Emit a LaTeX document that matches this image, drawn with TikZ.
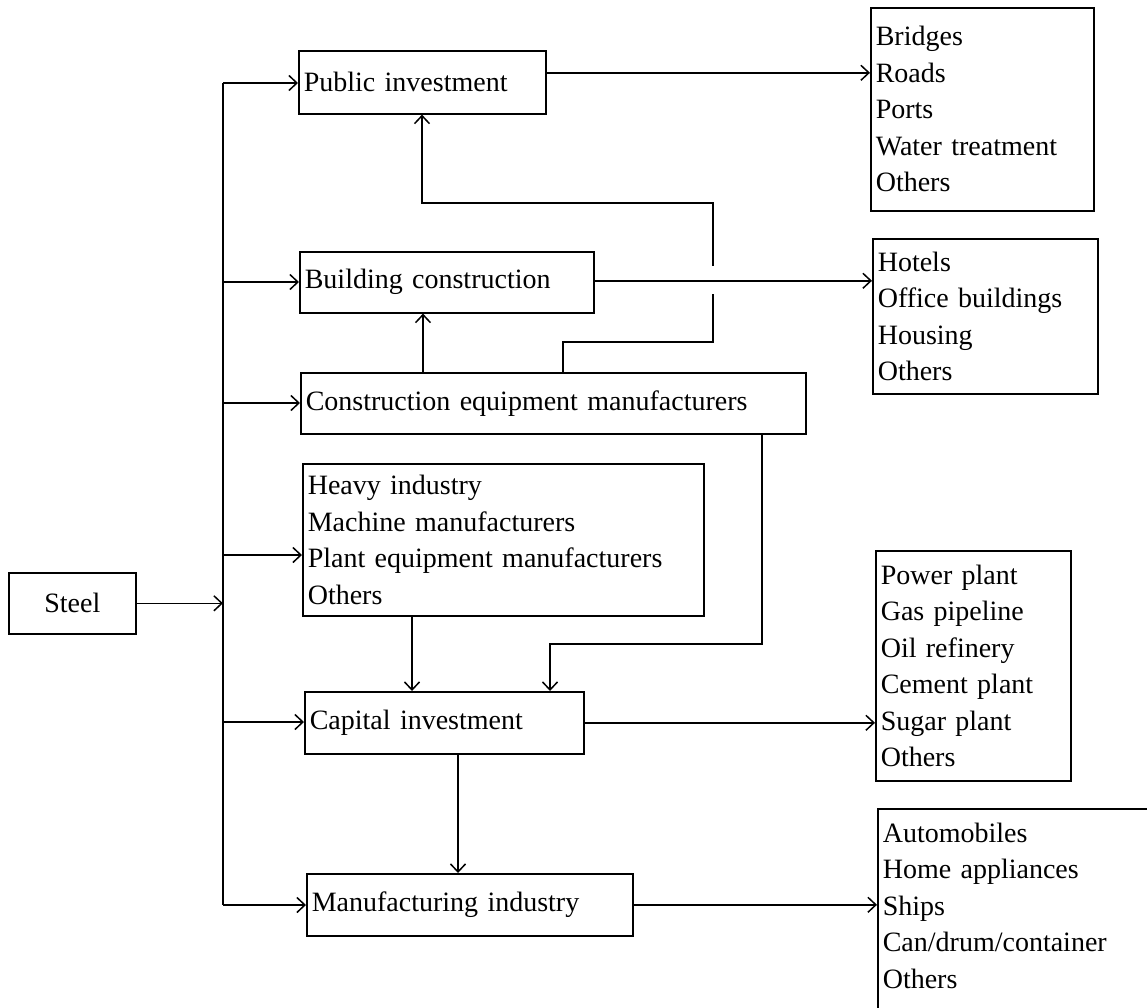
\documentclass[tikz,border=0pt]{standalone}
\usepackage{fontspec}
\setmainfont{Liberation Serif}
\usetikzlibrary{arrows.meta}
\begin{document}
\begin{tikzpicture}[x=1pt,y=-1pt,
  every node/.style={font=\fontsize{28}{36.5}\selectfont},
  box/.style={draw, line width=1.6pt, rectangle, anchor=north west,
    inner xsep=5pt, inner ysep=0pt, align=left},
  link/.style={line width=1.5pt},
  arr/.style={link, -{Straight Barb[length=8pt,width=15pt,line width=1.5pt]}}]

\useasboundingbox (0,0) rectangle (1147,1007);
\clip (0,0) rectangle (1147,1007);

% sector boxes
\node[box, text width=237pt, minimum height=63pt] (pub) at (298,50) {Public investment};
\node[box, text width=284pt, minimum height=61pt] (bld) at (299,251) {Building construction};
\node[box, text width=495pt, minimum height=61pt] (ceq) at (300,372) {Construction equipment manufacturers};
\node[box, text width=391pt, minimum height=152pt] (hvy) at (302,463)
  {Heavy industry\\Machine manufacturers\\Plant equipment manufacturers\\Others};
\node[box, text width=269pt, minimum height=62pt] (cap) at (304,691) {Capital investment};
\node[box, text width=316pt, minimum height=62pt] (mfg) at (306,873) {Manufacturing industry};
\node[box, text width=117pt, minimum height=61pt, align=center] (steel) at (8,572) {Steel};

% end-use boxes
\node[box, text width=213pt, minimum height=203pt] (bri) at (870,7)
  {Bridges\\Roads\\Ports\\Water treatment\\Others};
\node[box, text width=215pt, minimum height=155pt] (hot) at (872,238)
  {Hotels\\Office buildings\\Housing\\Others};
\node[box, text width=185pt, minimum height=230pt] (pow) at (875,550)
  {Power plant\\Gas pipeline\\Oil refinery\\Cement plant\\Sugar plant\\Others};
\node[box, text width=300pt, minimum height=230pt] (aut) at (877,808)
  {Automobiles\\Home appliances\\Ships\\Can/drum/container\\Others\\\mbox{}};

% distribution bus from steel
\coordinate (b1) at (223,83);
\coordinate (b2) at (223,282);
\coordinate (b3) at (223,403);
\coordinate (b4) at (223,555);
\coordinate (b5) at (223,722);
\coordinate (b6) at (223,905);
\draw[link, line width=2pt] (b1) -- (b6);
\draw[arr] (steel.east) -- (steel.east -| b1);
\draw[arr] (b1) -- (b1 -| pub.west);
\draw[arr] (b2) -- (b2 -| bld.west);
\draw[arr] (b3) -- (b3 -| ceq.west);
\draw[arr] (b4) -- (b4 -| hvy.west);
\draw[arr] (b5) -- (b5 -| cap.west);
\draw[arr] (b6) -- (b6 -| mfg.west);

% equipment feeding public investment
\coordinate (j1) at (713,342);
\coordinate (j2) at (713,203);
\draw[arr, line width=1.8pt] ([xshift=263pt]ceq.north west) |- (j1) -- (j2) -| ([xshift=124pt]pub.south west);
\draw[white, line width=5pt] (713,266) -- (713,294);

% equipment feeding building construction
\draw[arr, line width=1.8pt] ([xshift=123pt]ceq.north west) coordinate (u1) -- (u1 |- bld.south);

% equipment feeding capital investment
\coordinate (j3) at (550,644);
\draw[arr, line width=1.8pt] ([xshift=-45pt]ceq.south east) |- (j3) -- (j3 |- cap.north);

% heavy industry feeding capital investment
\draw[arr, line width=1.8pt] ([xshift=110pt]hvy.south west) coordinate (h1) -- (h1 |- cap.north);

% capital investment feeding manufacturing
\draw[arr, line width=1.8pt] ([xshift=154pt]cap.south west) coordinate (c1) -- (c1 |- mfg.north);

% outputs to end uses
\draw[arr] ([yshift=9.5pt]pub.east) coordinate (o1) -- (o1 -| bri.west);
\draw[arr] ([yshift=1.5pt]bld.east) coordinate (o2) -- (o2 -| hot.west);
\draw[arr] (cap.east) -- (cap.east -| pow.west);
\draw[arr] (mfg.east) -- (mfg.east -| aut.west);

\end{tikzpicture}
\end{document}
